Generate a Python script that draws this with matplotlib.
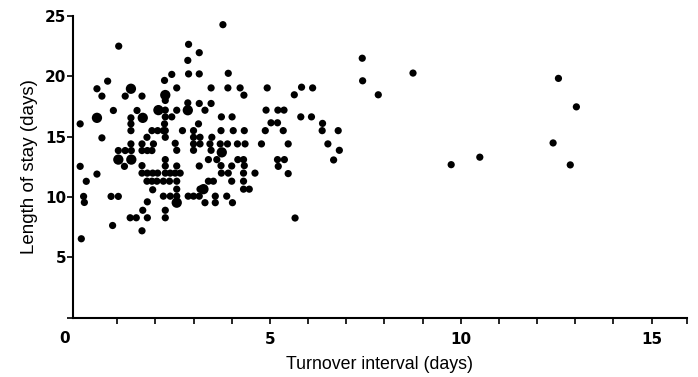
import matplotlib.pyplot as plt

# Turnover interval (days), length of stay (days), number of wards at that point
turnover = [
    3.77,
    1.04, 2.87,
    3.15, 7.42, 2.85,
    2.43, 2.87, 3.15, 3.91, 8.75,
    0.75, 2.24, 7.43, 12.56,
    0.47, 1.36, 2.56, 3.46, 3.90, 4.22, 4.93, 5.83, 6.12,
    0.60, 1.21, 1.65, 2.26, 4.32, 5.64, 7.84, 2.26,
    2.85, 3.15, 3.46,
    0.90, 1.52, 2.08, 2.26, 2.56, 2.85, 3.30, 4.90, 5.21, 5.37,
    0.47, 1.36, 1.67, 2.26, 2.43, 3.73, 4.01, 5.81, 6.09,
    0.03, 1.36, 2.24, 3.13, 5.03, 5.20, 6.38,
    1.36, 1.91, 2.06, 2.21, 2.26, 2.71, 3.00, 3.72, 4.04, 4.33, 4.88, 5.35, 6.37, 6.79,
    0.60, 1.78, 2.26, 3.00, 3.17, 3.48,
    1.36, 1.65, 1.95, 2.52, 3.00, 3.17, 3.43, 3.70, 3.89, 4.15, 4.35, 4.78, 5.48, 6.52,
    1.03, 1.21, 1.37, 1.65, 1.79, 1.91, 2.56, 3.00, 3.46, 3.74, 6.82,
    1.03, 1.37, 2.26, 3.39, 3.61, 4.16, 4.31, 5.20, 5.38, 6.67,
    0.03, 1.19, 1.65, 2.26, 2.56, 3.15, 3.72, 4.00, 4.33, 5.22, 12.87, 9.75,
    0.47, 1.65, 1.79, 1.93, 2.06, 2.26, 2.39, 2.52, 2.65, 3.73, 3.91, 4.31, 4.61, 5.48,
    0.19, 1.78, 1.91, 2.04, 2.21, 2.37, 2.56, 3.39, 3.52, 4.00, 4.31,
    1.93, 2.56, 3.17, 3.26, 4.31, 4.46,
    0.12, 0.84, 1.03, 2.21, 2.39, 2.56, 2.86, 3.00, 3.15, 3.57, 3.87,
    0.14, 1.79, 2.56, 3.30, 3.57, 4.02,
    1.67, 2.26,
    1.34, 1.50, 1.79, 2.26, 5.66,
    0.88, 1.65, 0.06,
    10.50, 12.42, 13.03,
]
stay = [
    24.28,
    22.50, 22.65,
    21.96, 21.50, 21.32,
    20.16, 20.20, 20.20, 20.25, 20.27,
    19.60, 19.66, 19.63, 19.83,
    18.97, 18.97, 19.04, 19.04, 19.04, 19.04, 19.04, 19.10, 19.04,
    18.36, 18.36, 18.36, 18.45, 18.44, 18.47, 18.47, 18.00,
    17.80, 17.75, 17.75,
    17.17, 17.17, 17.20, 17.20, 17.19, 17.19, 17.19, 17.20, 17.20, 17.20,
    16.56, 16.56, 16.56, 16.64, 16.64, 16.64, 16.64, 16.64, 16.64,
    16.06, 16.06, 16.06, 16.06, 16.15, 16.15, 16.10,
    15.50, 15.50, 15.50, 15.50, 15.50, 15.50, 15.50, 15.50, 15.50, 15.50, 15.50, 15.50, 15.50, 15.50,
    14.90, 14.95, 14.95, 14.95, 14.95, 14.95,
    14.40, 14.40, 14.40, 14.45, 14.40, 14.40, 14.40, 14.40, 14.40, 14.40, 14.40, 14.40, 14.40, 14.40,
    13.85, 13.85, 13.85, 13.85, 13.85, 13.85, 13.87, 13.87, 13.87, 13.70, 13.87,
    13.10, 13.10, 13.10, 13.10, 13.10, 13.10, 13.10, 13.10, 13.10, 13.07,
    12.54, 12.54, 12.60, 12.57, 12.57, 12.57, 12.60, 12.57, 12.60, 12.54, 12.66, 12.68,
    11.90, 11.98, 11.98, 11.98, 11.98, 11.98, 11.98, 11.98, 11.98, 11.98, 11.98, 11.98, 11.98, 11.94,
    11.30, 11.31, 11.31, 11.31, 11.31, 11.31, 11.31, 11.31, 11.31, 11.31, 11.31,
    10.60, 10.65, 10.65, 10.65, 10.65, 10.65,
    10.05, 10.05, 10.05, 10.07, 10.07, 10.07, 10.07, 10.07, 10.07, 10.07, 10.07,
    9.55, 9.60, 9.53, 9.53, 9.53, 9.53,
    8.90, 8.90,
    8.28, 8.28, 8.28, 8.28, 8.26,
    7.64, 7.20, 6.54,
    13.30, 14.48, 17.47,
]
# points where two wards coincide are drawn larger
doubles = [
    (1.36, 18.97), (2.26, 18.45), (2.08, 17.20), (2.85, 17.19),
    (0.47, 16.56), (1.67, 16.56), (3.74, 13.70), (1.03, 13.10),
    (1.37, 13.10), (3.26, 10.65), (2.56, 9.53),
]

x_ticks = list(range(1, 16)) + [15.92]
x_labels = {5: "5", 10: "10", 15: "15"}
y_ticks = [0, 5, 10, 15, 20, 25]

plt.rcParams["font.family"] = ["Liberation Sans", "DejaVu Sans"]
TICK_FONT = dict(family="DejaVu Sans", fontweight="bold", fontsize=11)

fig = plt.figure(figsize=(6.98, 3.77), dpi=100)
ax = fig.add_axes([0.105, 0.1573, 0.8788, 0.8003])

sizes = [55 if (x, y) in doubles else 27 for x, y in zip(turnover, stay)]
ax.scatter(turnover, stay, s=sizes, color="black", linewidths=0, zorder=3)

ax.set_xlim(-0.15, 15.92)
ax.set_ylim(0, 25)

for side in ["top", "right"]:
    ax.spines[side].set_visible(False)
for side in ["left", "bottom"]:
    ax.spines[side].set_linewidth(1.5)

ax.set_xticks(x_ticks)
ax.set_xticklabels([x_labels.get(t, "") for t in x_ticks], **TICK_FONT)
ax.set_yticks(y_ticks)
ax.set_yticklabels(["" if t == 0 else str(t) for t in y_ticks], **TICK_FONT)
ax.tick_params(direction="out", length=4, width=1.2)
ax.tick_params(axis="x", pad=6.5)
ax.tick_params(axis="y", pad=1)

# the origin label sits under the corner, left of the y axis
ax.text(-0.38, -1.7, "0", ha="center", va="center", **TICK_FONT)

ax.set_xlabel("Turnover interval (days)", fontsize=12.8, labelpad=6)
ax.set_ylabel("Length of stay (days)", fontsize=13.5, labelpad=5)

fig.savefig("out.png", dpi=100)
